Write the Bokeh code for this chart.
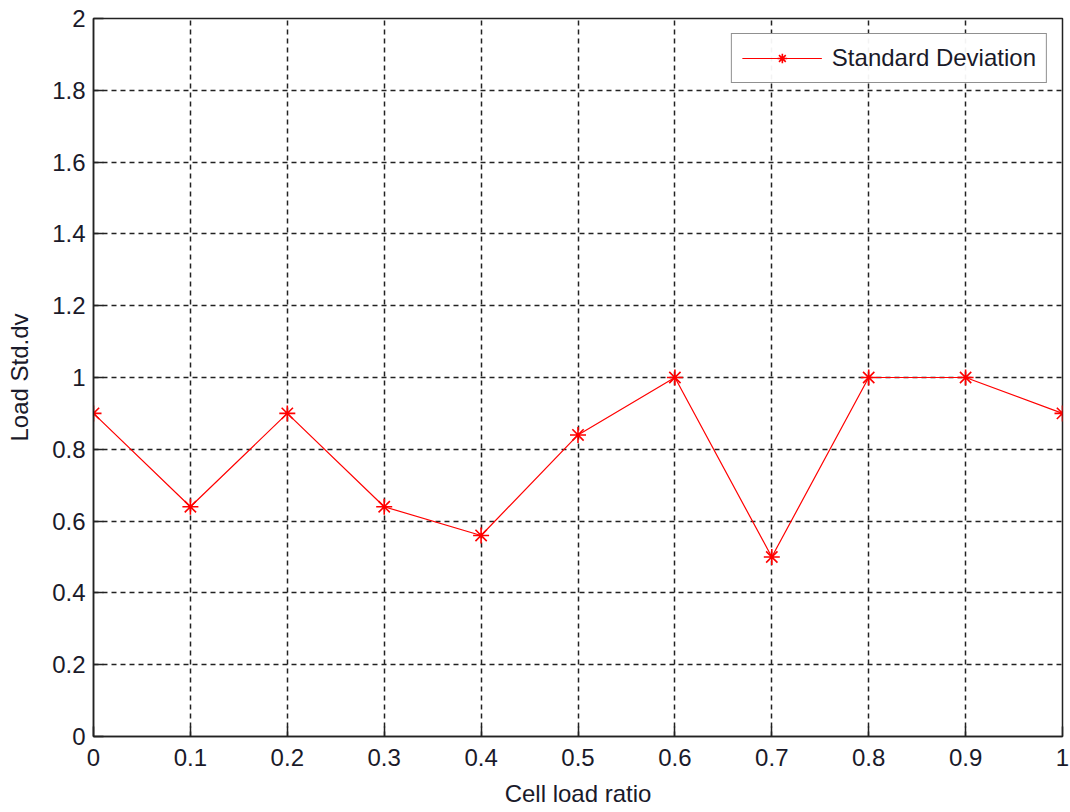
from bokeh.plotting import figure
from bokeh.models import Range1d, FixedTicker, Legend, LegendItem
from bokeh.embed import file_html
from bokeh.resources import INLINE

x_vals = [0, 0.1, 0.2, 0.3, 0.4, 0.5, 0.6, 0.7, 0.8, 0.9, 1.0]
std_dev = [0.9, 0.64, 0.9, 0.64, 0.56, 0.84, 1.0, 0.5, 1.0, 1.0, 0.9]
x_ticks = [0, 0.1, 0.2, 0.3, 0.4, 0.5, 0.6, 0.7, 0.8, 0.9, 1.0]
y_ticks = [0, 0.2, 0.4, 0.6, 0.8, 1.0, 1.2, 1.4, 1.6, 1.8, 2.0]
x_tick_labels = {0: "0", 0.1: "0.1", 0.2: "0.2", 0.3: "0.3", 0.4: "0.4", 0.5: "0.5",
                 0.6: "0.6", 0.7: "0.7", 0.8: "0.8", 0.9: "0.9", 1.0: "1"}
y_tick_labels = {0: "0", 0.2: "0.2", 0.4: "0.4", 0.6: "0.6", 0.8: "0.8", 1.0: "1",
                 1.2: "1.2", 1.4: "1.4", 1.6: "1.6", 1.8: "1.8", 2.0: "2"}

FONT = "Liberation Sans"
FS = "24px"

p = figure(width=1070, height=812, output_backend="svg", toolbar_location=None,
           x_range=Range1d(0, 1), y_range=Range1d(0, 2),
           min_border_left=93, min_border_right=8, min_border_top=18, min_border_bottom=76,
           x_axis_label="Cell load ratio", y_axis_label="Load Std.dv")

p.outline_line_color = "#222222"
p.outline_line_width = 1.5
p.background_fill_color = "white"
p.border_fill_color = "white"

for ax in (p.xaxis[0], p.yaxis[0]):
    ax.major_tick_in = 10
    ax.major_tick_out = 0
    ax.minor_tick_in = 0
    ax.minor_tick_out = 0
    ax.axis_line_color = "#222222"
    ax.axis_line_width = 1.5
    ax.major_tick_line_color = "#222222"
    ax.major_tick_line_width = 1.5
    ax.major_label_text_font = FONT
    ax.major_label_text_font_size = FS
    ax.major_label_text_color = "#1a1a2a"
    ax.axis_label_text_font = FONT
    ax.axis_label_text_font_size = FS
    ax.axis_label_text_font_style = "normal"
    ax.axis_label_text_color = "#1a1a2a"

p.xaxis.ticker = FixedTicker(ticks=x_ticks)
p.yaxis.ticker = FixedTicker(ticks=y_ticks)
p.xaxis.major_label_overrides = x_tick_labels
p.yaxis.major_label_overrides = y_tick_labels
p.xaxis.major_label_standoff = 12
p.yaxis.major_label_standoff = 8
p.xaxis.axis_label_standoff = 11
p.yaxis.axis_label_standoff = 16

p.xgrid[0].ticker = FixedTicker(ticks=x_ticks)
p.ygrid[0].ticker = FixedTicker(ticks=y_ticks)
for g in (p.xgrid[0], p.ygrid[0]):
    g.grid_line_color = "#222222"
    g.grid_line_width = 1.5
    g.grid_line_dash = "5 4"

ln = p.line(x_vals, std_dev, line_color="#ff0000", line_width=1.2)
mk = p.scatter(x_vals, std_dev, marker="asterisk", size=16, line_color="#ff0000", line_width=1.6)

legend = Legend(items=[LegendItem(label="Standard Deviation", renderers=[ln, mk])],
                location="top_right")
legend.label_text_font = FONT
legend.label_text_font_size = FS
legend.label_text_color = "#1a1a2a"
legend.border_line_color = "#222222"
legend.border_line_width = 1.5
legend.glyph_width = 80
legend.glyph_height = 24
legend.margin = 15
legend.padding = 10
legend.spacing = 0
legend.label_standoff = 10
p.add_layout(legend)

open("out.html", "w").write(file_html(p, INLINE))
